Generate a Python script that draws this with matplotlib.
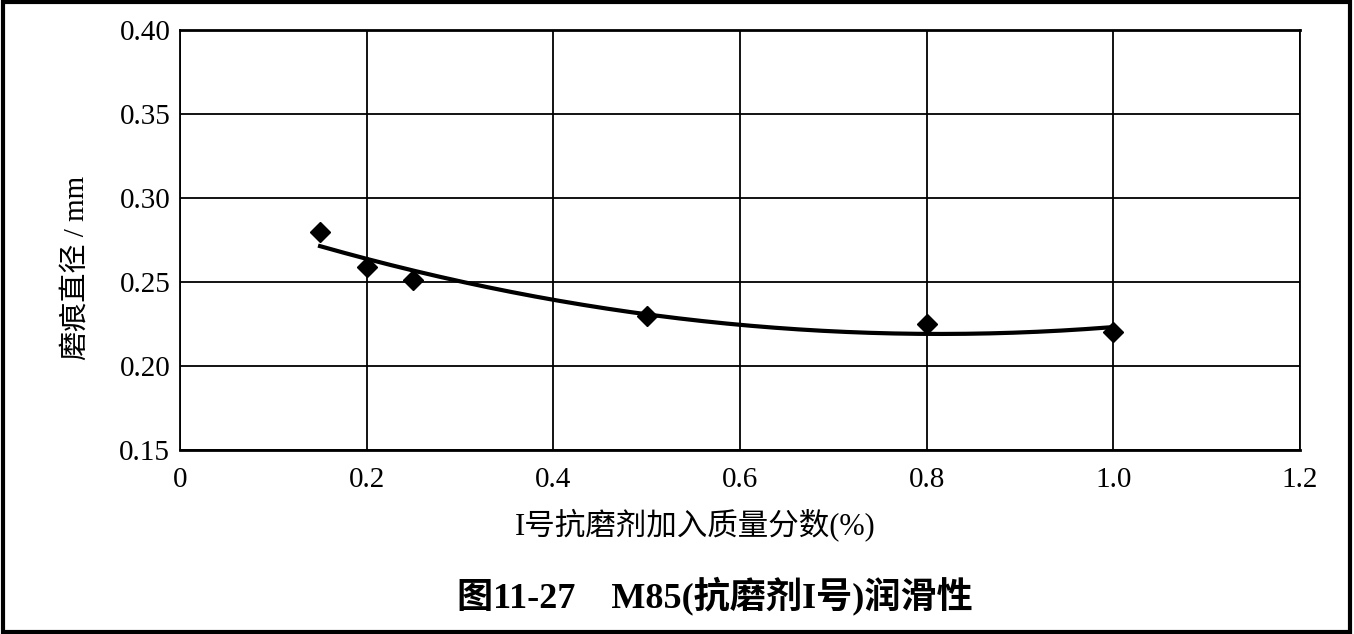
import numpy as np
import matplotlib
matplotlib.use("Agg")
import matplotlib.pyplot as plt
from matplotlib.patches import Rectangle

plt.rcParams['font.family'] = ['Liberation Serif', 'Noto Sans CJK SC', 'DejaVu Sans']

dose = [0.15, 0.20, 0.25, 0.50, 0.80, 1.00]
wear = [0.280, 0.259, 0.251, 0.230, 0.225, 0.220]

x_ticks = [0, 0.2, 0.4, 0.6, 0.8, 1.0, 1.2]
x_labels = ['0', '0.2', '0.4', '0.6', '0.8', '1.0', '1.2']
y_ticks = [0.15, 0.20, 0.25, 0.30, 0.35, 0.40]

# quadratic trendline through the measured points, like the spreadsheet one
coef = np.polyfit(dose, wear, 2)
xs = np.linspace(min(dose), max(dose), 200)
ys = np.polyval(coef, xs)

fig = plt.figure(figsize=(13.54, 6.34), dpi=100)
ax = fig.add_axes([0.133, 0.290, 0.827, 0.663])

ax.plot(xs, ys, color='black', lw=3, zorder=3)
ax.plot(dose, wear, 'D', color='black', markersize=10, zorder=4)

ax.set_xlim(0, 1.2)
ax.set_ylim(0.15, 0.40)
ax.set_xticks(x_ticks)
ax.set_xticklabels(x_labels)
ax.set_yticks(y_ticks)
ax.set_yticklabels([f'{v:.2f}' for v in y_ticks])
ax.tick_params(length=0, labelsize=21)
ax.tick_params(axis='x', pad=12)
ax.tick_params(axis='y', pad=7)
ax.grid(True, color='black', lw=1.3)
ax.set_axisbelow(True)
for s in ['left', 'right']:
    ax.spines[s].set_linewidth(1.3)
for s in ['top', 'bottom']:
    ax.spines[s].set_linewidth(2)

ax.set_xlabel('I号抗磨剂加入质量分数(%)', fontsize=22)
ax.xaxis.set_label_coords(0.46, -0.179)
ax.set_ylabel('磨痕直径 / mm', fontsize=21)
ax.yaxis.set_label_coords(-0.093, 0.433)
ax.xaxis.label.set_va('center')
ax.yaxis.label.set_va('center')

fig.text(0.528, 0.06, '图11-27    M85(抗磨剂I号)润滑性', ha='center', va='center',
         fontsize=26, fontweight='bold')

fig.patches.append(Rectangle((0.002, 0.003), 0.995, 0.994, transform=fig.transFigure,
                             fill=False, edgecolor='black', lw=3))

fig.savefig('out.png', dpi=100)
